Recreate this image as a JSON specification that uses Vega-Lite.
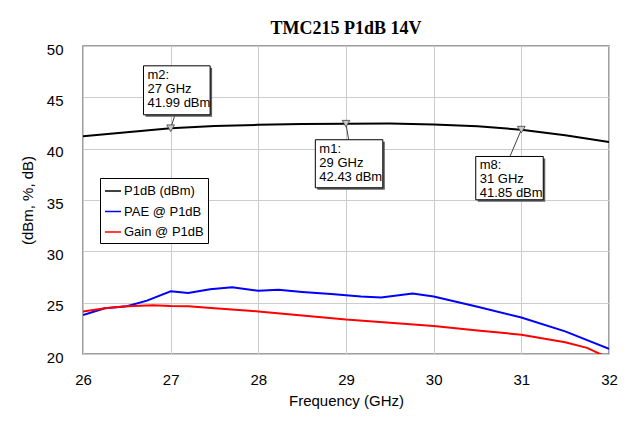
{
  "$schema": "https://vega.github.io/schema/vega-lite/v6.json",
  "width": 526,
  "height": 308,
  "autosize": {"type": "none"},
  "padding": {"left": 83, "top": 46, "right": 25, "bottom": 72},
  "background": "white",
  "title": {"text": "TMC215 P1dB 14V", "font": "Liberation Serif", "fontSize": 18, "fontWeight": "bold", "color": "black", "anchor": "middle", "baseline": "alphabetic", "offset": 9, "dy": 19},
  "config": {
    "view": {"stroke": "#808080", "strokeWidth": 1.5},
    "axis": {"labelFont": "Liberation Sans", "titleFont": "Liberation Sans", "labelColor": "black", "titleColor": "black", "titleFontWeight": "normal", "labelFontSize": 15, "titleFontSize": 15, "gridColor": "#cccccc", "gridWidth": 1, "ticks": false, "domain": false}
  },
  "datasets": {
    "curves": [
      {"freq": 26.0, "value": 41.2, "series": "P1dB (dBm)"},
      {"freq": 26.5, "value": 41.6, "series": "P1dB (dBm)"},
      {"freq": 27.0, "value": 41.99, "series": "P1dB (dBm)"},
      {"freq": 27.5, "value": 42.2, "series": "P1dB (dBm)"},
      {"freq": 28.0, "value": 42.32, "series": "P1dB (dBm)"},
      {"freq": 28.5, "value": 42.4, "series": "P1dB (dBm)"},
      {"freq": 29.0, "value": 42.43, "series": "P1dB (dBm)"},
      {"freq": 29.5, "value": 42.44, "series": "P1dB (dBm)"},
      {"freq": 30.0, "value": 42.36, "series": "P1dB (dBm)"},
      {"freq": 30.5, "value": 42.18, "series": "P1dB (dBm)"},
      {"freq": 31.0, "value": 41.85, "series": "P1dB (dBm)"},
      {"freq": 31.5, "value": 41.3, "series": "P1dB (dBm)"},
      {"freq": 32.0, "value": 40.65, "series": "P1dB (dBm)"},
      {"freq": 26.0, "value": 23.8, "series": "PAE @ P1dB"},
      {"freq": 26.25, "value": 24.45, "series": "PAE @ P1dB"},
      {"freq": 26.5, "value": 24.65, "series": "PAE @ P1dB"},
      {"freq": 26.73, "value": 25.2, "series": "PAE @ P1dB"},
      {"freq": 27.0, "value": 26.1, "series": "PAE @ P1dB"},
      {"freq": 27.2, "value": 25.95, "series": "PAE @ P1dB"},
      {"freq": 27.45, "value": 26.3, "series": "PAE @ P1dB"},
      {"freq": 27.7, "value": 26.5, "series": "PAE @ P1dB"},
      {"freq": 28.0, "value": 26.15, "series": "PAE @ P1dB"},
      {"freq": 28.23, "value": 26.25, "series": "PAE @ P1dB"},
      {"freq": 28.5, "value": 26.05, "series": "PAE @ P1dB"},
      {"freq": 28.83, "value": 25.85, "series": "PAE @ P1dB"},
      {"freq": 29.17, "value": 25.6, "series": "PAE @ P1dB"},
      {"freq": 29.4, "value": 25.5, "series": "PAE @ P1dB"},
      {"freq": 29.76, "value": 25.9, "series": "PAE @ P1dB"},
      {"freq": 30.0, "value": 25.6, "series": "PAE @ P1dB"},
      {"freq": 30.5, "value": 24.6, "series": "PAE @ P1dB"},
      {"freq": 31.0, "value": 23.55, "series": "PAE @ P1dB"},
      {"freq": 31.5, "value": 22.2, "series": "PAE @ P1dB"},
      {"freq": 32.0, "value": 20.5, "series": "PAE @ P1dB"},
      {"freq": 26.0, "value": 24.15, "series": "Gain @ P1dB"},
      {"freq": 26.25, "value": 24.45, "series": "Gain @ P1dB"},
      {"freq": 26.5, "value": 24.65, "series": "Gain @ P1dB"},
      {"freq": 26.8, "value": 24.75, "series": "Gain @ P1dB"},
      {"freq": 27.0, "value": 24.68, "series": "Gain @ P1dB"},
      {"freq": 27.2, "value": 24.66, "series": "Gain @ P1dB"},
      {"freq": 27.5, "value": 24.45, "series": "Gain @ P1dB"},
      {"freq": 28.0, "value": 24.15, "series": "Gain @ P1dB"},
      {"freq": 28.5, "value": 23.75, "series": "Gain @ P1dB"},
      {"freq": 29.0, "value": 23.35, "series": "Gain @ P1dB"},
      {"freq": 29.5, "value": 23.05, "series": "Gain @ P1dB"},
      {"freq": 30.0, "value": 22.72, "series": "Gain @ P1dB"},
      {"freq": 30.5, "value": 22.3, "series": "Gain @ P1dB"},
      {"freq": 31.0, "value": 21.88, "series": "Gain @ P1dB"},
      {"freq": 31.5, "value": 21.15, "series": "Gain @ P1dB"},
      {"freq": 31.75, "value": 20.6, "series": "Gain @ P1dB"},
      {"freq": 32.0, "value": 19.6, "series": "Gain @ P1dB"}
    ],
    "markers": [
      {"name": "m2", "freq": 27.0, "value": 41.99, "label": "m2:\n27 GHz\n41.99 dBm", "bx1": 26.69, "bx2": 27.45, "by1": 48.07, "by2": 43.3, "lx": 27.05, "ly": 43.3},
      {"name": "m1", "freq": 29.0, "value": 42.43, "label": "m1:\n29 GHz\n42.43 dBm", "bx1": 28.65, "bx2": 29.42, "by1": 40.87, "by2": 36.19, "lx": 29.03, "ly": 40.87},
      {"name": "m8", "freq": 31.0, "value": 41.85, "label": "m8:\n31 GHz\n41.85 dBm", "bx1": 30.48, "bx2": 31.25, "by1": 39.24, "by2": 35.02, "lx": 30.87, "ly": 39.24}
    ]
  },
  "encoding": {
    "x": {"type": "quantitative", "scale": {"domain": [26, 32], "nice": false, "zero": false},
          "axis": {"title": "Frequency (GHz)", "values": [26, 27, 28, 29, 30, 31, 32], "labelPadding": 25, "labelBaseline": "middle", "labelFlush": false, "labelOverlap": false, "titleX": 263, "titleY": 46, "titleBaseline": "middle", "titleAlign": "center"}},
    "y": {"type": "quantitative", "scale": {"domain": [20, 50], "nice": false, "zero": false},
          "axis": {"title": "(dBm, %, dB)", "values": [20, 25, 30, 35, 40, 45, 50], "labelPadding": 20, "labelOffset": 3, "labelBaseline": "middle", "labelFlush": false, "labelOverlap": false, "titleX": -56, "titleY": 154, "titleAngle": 270, "titleAlign": "center", "titleBaseline": "middle"}}
  },
  "layer": [
    {
      "data": {"name": "curves"},
      "mark": {"type": "line", "strokeWidth": 2, "clip": true},
      "encoding": {
        "x": {"field": "freq"},
        "y": {"field": "value"},
        "color": {"field": "series", "type": "nominal",
                  "scale": {"domain": ["P1dB (dBm)", "PAE @ P1dB", "Gain @ P1dB"], "range": ["#000000", "#0000ff", "#ff0000"]},
                  "legend": {"orient": "none", "legendX": 17, "legendY": 132, "title": null, "symbolType": "stroke", "symbolSize": 256, "symbolStrokeWidth": 1.5, "labelFont": "Liberation Sans", "labelFontSize": 13, "labelColor": "black", "strokeColor": "black", "fillColor": "white", "padding": 4, "rowPadding": 4.5, "labelOffset": 2}}
      }
    },
    {
      "data": {"name": "markers"},
      "mark": {"type": "rule", "color": "#404040", "strokeWidth": 1},
      "encoding": {
        "x": {"field": "freq"},
        "y": {"field": "value"},
        "x2": {"field": "lx"},
        "y2": {"field": "ly"}
      }
    },
    {
      "data": {"name": "markers"},
      "mark": {"type": "point", "shape": "triangle-down", "size": 60, "filled": true, "fill": "#c8c8c8", "stroke": "#404040", "strokeWidth": 0.8, "opacity": 1},
      "encoding": {
        "x": {"field": "freq"},
        "y": {"field": "value"}
      }
    },
    {
      "data": {"name": "markers"},
      "mark": {"type": "rect", "fill": "#606060", "xOffset": 2, "x2Offset": 2, "yOffset": 2, "y2Offset": 2},
      "encoding": {
        "x": {"field": "bx1"},
        "x2": {"field": "bx2"},
        "y": {"field": "by1"},
        "y2": {"field": "by2"}
      }
    },
    {
      "data": {"name": "markers"},
      "mark": {"type": "rect", "fill": "white", "stroke": "black", "strokeWidth": 1},
      "encoding": {
        "x": {"field": "bx1"},
        "x2": {"field": "bx2"},
        "y": {"field": "by1"},
        "y2": {"field": "by2"}
      }
    },
    {
      "data": {"name": "markers"},
      "mark": {"type": "text", "align": "left", "baseline": "top", "dx": 4, "dy": 3, "font": "Liberation Sans", "fontSize": 13, "lineHeight": 14, "lineBreak": "\n", "color": "black"},
      "encoding": {
        "x": {"field": "bx1"},
        "y": {"field": "by1"},
        "text": {"field": "label"}
      }
    }
  ]
}
